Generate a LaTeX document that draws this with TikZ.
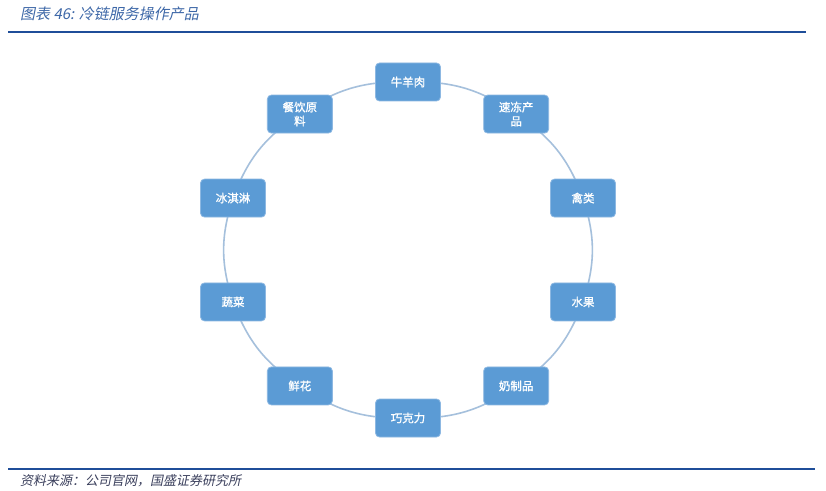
\documentclass[tikz,border=0pt]{standalone}
\usepackage{fontspec}
\usetikzlibrary{backgrounds}
\newfontfamily\cjkbox{Noto Sans CJK SC}[FakeBold=1.2]
\newfontfamily\cjkit{Noto Sans CJK SC}[FakeSlant=0.2]
\definecolor{boxfill}{HTML}{5B9BD5}
\definecolor{boxline}{HTML}{8DB8E2}
\definecolor{ringcol}{HTML}{A5C0DC}
\definecolor{rulecol}{HTML}{1F4E99}
\definecolor{titlecol}{HTML}{3E68A8}
\definecolor{srccol}{HTML}{3A3F5C}
\tikzset{
  prod/.style={draw=boxline, line width=0.8pt, fill=boxfill, rounded corners=4pt,
    minimum width=65pt, minimum height=38pt, inner sep=1pt, align=center,
    text=white, font=\cjkbox\fontsize{11.5}{14}\selectfont},
  ring/.style={draw=ringcol, line width=1.6pt},
  rulebar/.style={draw=rulecol, line width=2pt}
}
\begin{document}
\begin{tikzpicture}[x=1pt,y=1pt]
\useasboundingbox (0,0) rectangle (826,490);
% title and rules
\node[anchor=west, text=titlecol, font=\cjkit\fontsize{15}{17}\selectfont, inner sep=0pt] (title) at (20,476) {图表 46: 冷链服务操作产品};
\coordinate (t1) at (8,458);
\coordinate (t2) at (806,458);
\draw[rulebar] (t1) -- (t2);
\coordinate (b1) at (8,21);
\coordinate (b2) at (815,21);
\draw[rulebar] (b1) -- (b2);
\node[anchor=west, text=srccol, font=\cjkit\fontsize{13}{15}\selectfont, inner sep=0pt] (src) at (20,9) {资料来源：公司官网，国盛证券研究所};
% products
\foreach \i/\t in {0/{牛羊肉},1/{速冻产\\品},2/{禽类},3/{水果},4/{奶制品},5/{巧克力},6/{鲜花},7/{蔬菜},8/{冰淇淋},9/{餐饮原\\料}}{
  \node[prod] (n\i) at ({408+184*sin(36*\i)},{240+168*cos(36*\i)}) {\t};
}
% ring connectors
\begin{scope}[on background layer]
\fill[white] (0,0) rectangle (826,490);
\foreach \a/\b in {0/1,1/2,2/3,3/4,4/5,5/6,6/7,7/8,8/9,9/0}{
  \draw[ring] (n\a.center) to[bend left=18] (n\b.center);
}
\end{scope}
\end{tikzpicture}
\end{document}
